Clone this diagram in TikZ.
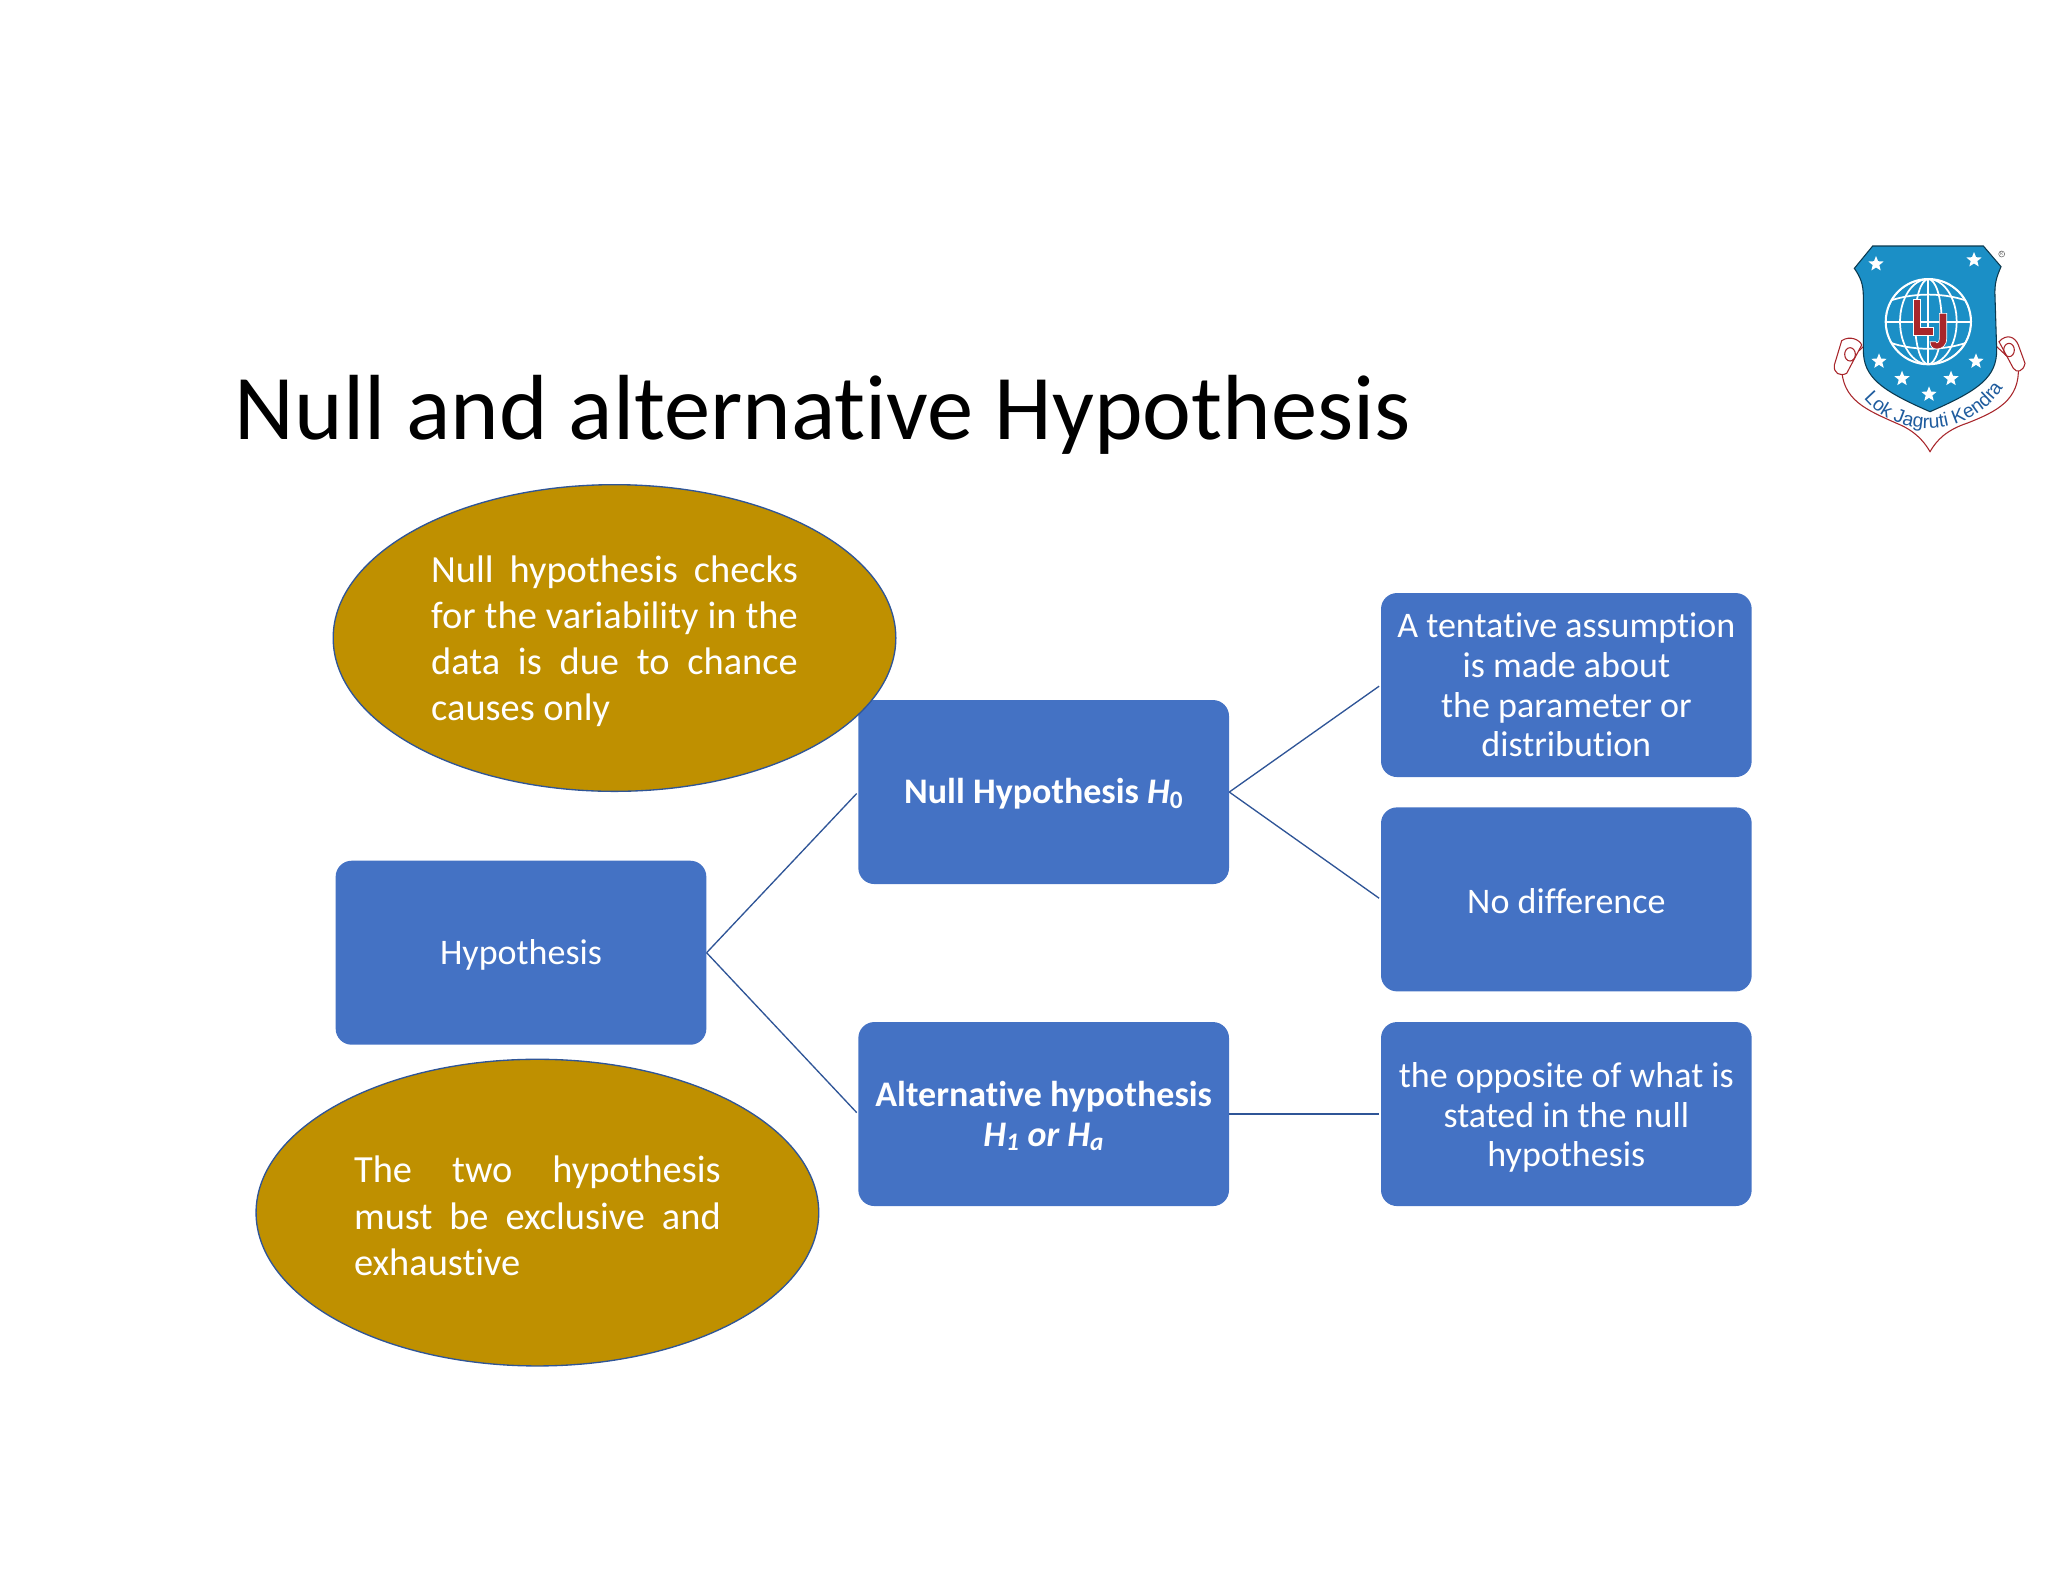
\documentclass[tikz,border=0pt]{standalone}
\usepackage{xcolor}
\usepackage{fontspec}
\setmainfont[Ligatures=NoCommon]{Carlito}
\newfontfamily\logofamily{Liberation Sans}
\usepackage{tikz}
\usetikzlibrary{shapes.geometric,decorations.text}
\definecolor{boxblue}{HTML}{4472C4}
\definecolor{linkblue}{HTML}{2F5597}
\definecolor{ovalgold}{HTML}{BF9000}
\definecolor{logoblue}{HTML}{1B8FC6}
\definecolor{logored}{HTML}{A8262B}
\definecolor{logotext}{HTML}{1F5C9E}
\tikzstyle{blockbox} = [rectangle, rounded corners=12pt, minimum width=278pt, minimum height=138pt, inner sep=0pt, align=center, text=white, fill=boxblue, font=\fontsize{27}{29.8}\selectfont, execute at begin node={\rule{0pt}{22pt}}]
\tikzstyle{oval} = [ellipse, minimum width=422pt, minimum height=230pt, inner sep=0pt, text width=275pt, align=justify, text=white, fill=ovalgold, draw=linkblue, line width=1pt, font=\fontsize{28.8}{34.7}\selectfont, execute at begin node={\rule{0pt}{25pt}}]
\tikzstyle{link} = [draw=linkblue, line width=1pt, shorten >=1.5pt]
\tikzstyle{logostar} = [star, star points=5, star point ratio=2.3, minimum size=12pt, inner sep=0pt, fill=white]
\begin{document}
\begin{tikzpicture}[x=0.75pt, y=-0.75pt, node distance=392pt]
          \useasboundingbox (0,0) rectangle (2048,1582);
          \node (title) [anchor=base west, font=\fontsize{69.4}{72}\selectfont] at (230,439.5) {Null and alternative Hypothesis};
          \node (hypo) [blockbox] at (521,952.7) {Hypothesis};
          \node (nullhyp) [blockbox, right of=hypo, yshift=120.5pt] {\textbf{Null Hypothesis \textit{H}\textsubscript{0}}};
          \node (althyp) [blockbox, right of=hypo, yshift=-121pt] {\rule{0pt}{22pt}\textbf{Alternative hypothesis}\\\textbf{\textit{H\textsubscript{1} or H\textsubscript{a}}}};
          \node (assume) [blockbox, right of=nullhyp, yshift=80.25pt] {A tentative assumption\\is made about\\the parameter or\\distribution};
          \node (nodiff) [blockbox, right of=nullhyp, yshift=-80.5pt, execute at begin node={}] {No difference};
          \node (opposite) [blockbox, right of=althyp] {\rule{0pt}{24pt}the opposite of what is\\stated in the null\\hypothesis};
          \node (checks) [oval] at (614.5,638) {Null hypothesis checks\linebreak for the variability in the\linebreak data is due to chance\linebreak causes only};
          \node (exclusive) [oval] at (537.4,1212.6) {The two hypothesis\linebreak must be exclusive and\linebreak exhaustive};
          \draw [link] (hypo.east) -- (nullhyp.west);
          \draw [link] (hypo.east) -- (althyp.west);
          \draw [link] (nullhyp.east) -- (assume.west);
          \draw [link] (nullhyp.east) -- (nodiff.west);
          \draw [link] (althyp.east) -- (opposite.west);
          % logo
          \begin{scope}[shift={(1800,220)}, x=0.25pt, y=-0.25pt]
            \draw [logored, line width=0.8pt, fill=white] (125,440) .. controls (125,540) and (200,570) .. (290,610) .. controls (340,630) and (370,660) .. (390,695) .. controls (410,660) and (440,630) .. (500,610) .. controls (590,575) and (660,540) .. (655,440) -- (590,380) -- (190,380) -- cycle;
            \draw [logored, line width=0.8pt, fill=white] (125,362) .. controls (150,345) and (180,360) .. (185,375) -- (140,460) .. controls (120,470) and (100,460) .. (103,435) -- cycle;
            \draw [logored, line width=0.8pt] (150,403) circle [x radius=16, y radius=20];
            \draw [logored, line width=0.8pt, fill=white] (597,365) .. controls (620,340) and (645,350) .. (655,375) -- (675,430) .. controls (670,455) and (650,460) .. (640,445) -- cycle;
            \draw [logored, line width=0.8pt] (627,390) circle [x radius=16, y radius=20];
            \draw [fill=logoblue, draw=black!60!logoblue, line width=0.8pt] (218,78) -- (550,78) -- (603,140) .. controls (590,170) and (583,190) .. (585,230) -- (590,390) .. controls (590,470) and (540,510) .. (390,575) .. controls (240,510) and (190,470) .. (190,390) -- (190,230) .. controls (190,190) and (180,170) .. (163,145) -- cycle;
            \begin{scope}
              \clip (385,305) circle [radius=128];
              \foreach \rx in {128,85,40}
                \draw [white, line width=1.3pt] (385,305) circle [x radius=\rx, y radius=128];
              \draw [white, line width=1.3pt] (385,177) -- (385,433);
              \foreach \py/\pb in {205/-55,250/-35,305/0,360/35,405/55}
                \draw [white, line width=1.3pt] (250,\py) .. controls (330,\py+\pb) and (440,\py+\pb) .. (520,\py);
            \end{scope}
            \draw [white, line width=1.5pt] (385,305) circle [radius=128];
            \fill [logored, draw=white, line width=0.5pt] (340,238) -- (362,238) -- (362,322) -- (400,322) -- (400,345) -- (340,345) -- cycle;
            \fill [logored, draw=white, line width=0.5pt] (418,280) -- (440,280) -- (440,355) .. controls (440,378) and (425,387) .. (410,387) .. controls (398,387) and (390,380) .. (390,365) -- (407,365) .. controls (410,372) and (418,368) .. (418,355) -- cycle;
            \foreach \sx/\sy in {228/132,522/120,237/424,528/424,306/476,453/476,387/523}
              \node [logostar] at (\sx,\sy) {};
            \node [draw=black!60, line width=0.4pt, circle, inner sep=0.4pt, text=black!60, font=\fontsize{4}{4}\selectfont] at (605,102) {R};
            \path [decorate, decoration={text along path, text align=center, text={|\logofamily\fontsize{14.5}{15}\selectfont\color{logotext}|Lok Jagruti Kendra}}] (190,535) .. controls (290,660) and (510,660) .. (610,500);
          \end{scope}
        \end{tikzpicture}
\end{document}
